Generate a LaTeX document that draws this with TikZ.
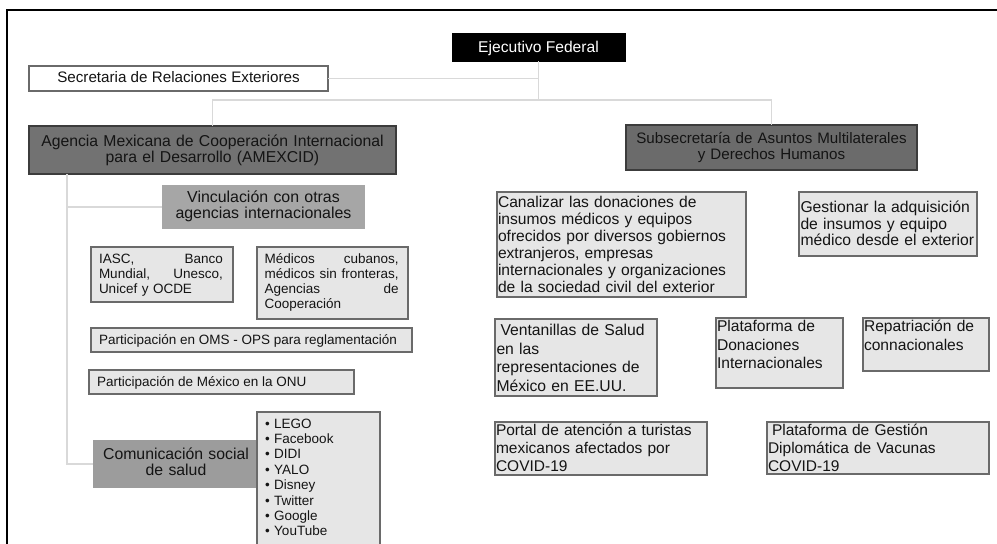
\documentclass[tikz,border=0pt]{standalone}
\usepackage{fontspec}
\setmainfont{Liberation Sans}
\definecolor{connc}{HTML}{D9D9D9}
\definecolor{lfill}{HTML}{E6E6E6}
\definecolor{lline}{HTML}{6A6A6A}
\definecolor{dfill}{HTML}{727272}
\definecolor{dline}{HTML}{3C3C3C}
\definecolor{vfill}{HTML}{A6A6A6}
\definecolor{cfill}{HTML}{9C9C9C}
\definecolor{txtc}{HTML}{141414}
\tikzset{
  conn/.style={draw=connc, line width=1.5pt},
  shell/.style={rectangle, inner sep=0pt, outer sep=0pt},
  lbox/.style={shell, fill=lfill, draw=lline, line width=1.1pt},
  dbox/.style={shell, fill=dfill, draw=dline, line width=1.1pt},
  txt/.style={inner sep=0pt, outer sep=0pt, text=txtc, font=\fontsize{15.6}{17}\selectfont},
  stxt/.style={inner sep=0pt, outer sep=0pt, text=txtc, font=\fontsize{13.5}{15}\selectfont},
}
\newcommand{\bx}[6]{% style, name, x1, y1, x2, y2
  \node[#1, minimum width={(#5-#3)*1pt}, minimum height={(#6-#4)*1pt}] (#2) at ({(#3+#5)/2},{(#4+#6)/2}) {};}
\begin{document}
\begin{tikzpicture}[x=1pt,y=-1pt]
\useasboundingbox (0,0) rectangle (997,544);
\fill[white] (0,0) rectangle (997,544);
% frame
\coordinate (ftl) at (7,10);
\coordinate (ftr) at (997,10);
\coordinate (fbl) at (7,544);
\draw[black, line width=1.1pt] (fbl) -- (ftl) -- (ftr);

% top boxes
\bx{shell, fill=black, draw=black}{ej}{452}{33}{625}{61}
\node[txt, text=white, anchor=base, font=\fontsize{15.6}{17}\selectfont] (ejt) at (538.5,52) {Ejecutivo Federal};

\bx{shell, fill=white, draw=lline, line width=1.1pt}{sre}{29}{66}{328}{91}
\node[txt, anchor=base, font=\fontsize{15.2}{17}\selectfont] (sret) at (178.5,82) {Secretaria de Relaciones Exteriores};

\bx{dbox}{am}{29}{126}{396}{174}
\node[txt, anchor=base, align=center, text width=370pt, font=\fontsize{15.75}{16}\selectfont] (amt) at (212.5,146.7)
  {Agencia Mexicana de Cooperación Internacional\\para el Desarrollo (AMEXCID)};

\bx{dbox, fill=dfill!105}{sub}{626}{125}{917}{170}
\node[txt, anchor=base, align=center, text width=290pt, font=\fontsize{15.15}{16}\selectfont] (subt) at (771.5,143.3)
  {Subsecretaría de Asuntos Multilaterales\\y Derechos Humanos};

% connectors top
\draw[conn] (ej.south) -- ++(0,39) coordinate (jn);
\draw[conn] (sre.east) -- (sre.east -| ej.south);
\draw[conn] (am.north) -- (am.north |- jn) -- (sub.north |- jn) -- (sub.north);

% left column
\bx{shell, fill=vfill}{vin}{162}{185}{365}{229}
\node[txt, anchor=base, align=center, text width=200pt, font=\fontsize{15.9}{16}\selectfont] (vint) at (263.5,202.3)
  {Vinculación con otras\\agencias internacionales};

\bx{lbox}{ia}{91}{247}{233}{302}
\node[stxt, anchor=base west, align=left, text width=124pt] (iat) at (99,263.3)
  {IASC,\hfill Banco\\Mundial,\hfill Unesco,\\Unicef y OCDE};

\bx{lbox}{me}{257}{247}{408}{319}
\node[stxt, anchor=base west, align=left, text width=134pt] (met) at (264.7,263.3)
  {Médicos\hfill cubanos,\\médicos\hfill sin\hfill fronteras,\\Agencias\hfill de\\Cooperación};

\bx{lbox}{om}{91}{328}{412}{352}
\node[stxt, anchor=base west] (omt) at (99,344) {Participación en OMS - OPS para reglamentación};

\bx{lbox}{on}{89}{370}{354}{394}
\node[stxt, anchor=base west] (ont) at (97,386.7) {Participación de México en la ONU};

\bx{shell, fill=cfill}{com}{93}{440}{265}{488}
\node[txt, anchor=base, align=center, text width=170pt, font=\fontsize{15.8}{15.7}\selectfont] (comt) at (176,459.3)
  {Comunicación social\\de salud};

\bx{shell, fill=lfill}{li}{257}{412}{380}{544}
\draw[lline, line width=1.1pt] (li.south west) -- (li.north west) -- (li.north east) -- (li.south east);
\node[stxt, anchor=base west, align=left, text width=110pt, font=\fontsize{13.5}{15.34}\selectfont] (lit) at (265,428.3)
  {• LEGO\\• Facebook\\• DIDI\\• YALO\\• Disney\\• Twitter\\• Google\\• YouTube};

% left connectors
\coordinate (sp) at (67,174);
\draw[conn] (sp) |- (com.west);
\draw[conn] (sp |- vin.west) -- (vin.west);

% right column
\bx{lbox}{ca}{497}{192}{746}{297}
\node[txt, anchor=base west, align=left, text width=250pt] (cat) at (498,207.5)
  {Canalizar las donaciones de\\insumos médicos y equipos\\ofrecidos por diversos gobiernos\\extranjeros, empresas\\internacionales y organizaciones\\de la sociedad civil del exterior};

\bx{lbox}{ge}{799}{192}{977}{256}
\node[txt, anchor=base west, align=left, text width=180pt, font=\fontsize{15.7}{16.7}\selectfont] (get) at (800.5,212.5)
  {Gestionar la adquisición\\de insumos y equipo\\médico desde el exterior};

\bx{lbox}{ve}{495}{319}{657}{396}
\node[txt, anchor=base west, align=left, text width=165pt, font=\fontsize{15.7}{18.7}\selectfont] (vet) at (496.5,335.5)
  {\hspace*{4pt}Ventanillas de Salud\\en las\\representaciones de\\México en EE.UU.};

\bx{lbox}{pd}{716}{318}{843}{388}
\node[txt, anchor=base west, align=left, text width=130pt, font=\fontsize{15.6}{18.3}\selectfont] (pdt) at (717,331.7)
  {Plataforma de\\Donaciones\\Internacionales};

\bx{lbox}{re}{863}{318}{989}{371}
\node[txt, anchor=base west, align=left, text width=130pt, font=\fontsize{15.6}{18.3}\selectfont] (ret) at (864,331.7)
  {Repatriación de\\connacionales};

\bx{lbox}{po}{495}{422}{707}{475}
\node[txt, anchor=base west, align=left, text width=215pt, font=\fontsize{15.5}{18}\selectfont] (pot) at (496,435.7)
  {Portal de atención a turistas\\mexicanos afectados por\\COVID-19};

\bx{lbox}{pg}{767}{422}{989}{474}
\node[txt, anchor=base west, align=left, text width=220pt, font=\fontsize{15.5}{18}\selectfont] (pgt) at (768,435.7)
  {\hspace*{4pt}Plataforma de Gestión\\Diplomática de Vacunas\\COVID-19};
\end{tikzpicture}
\end{document}
